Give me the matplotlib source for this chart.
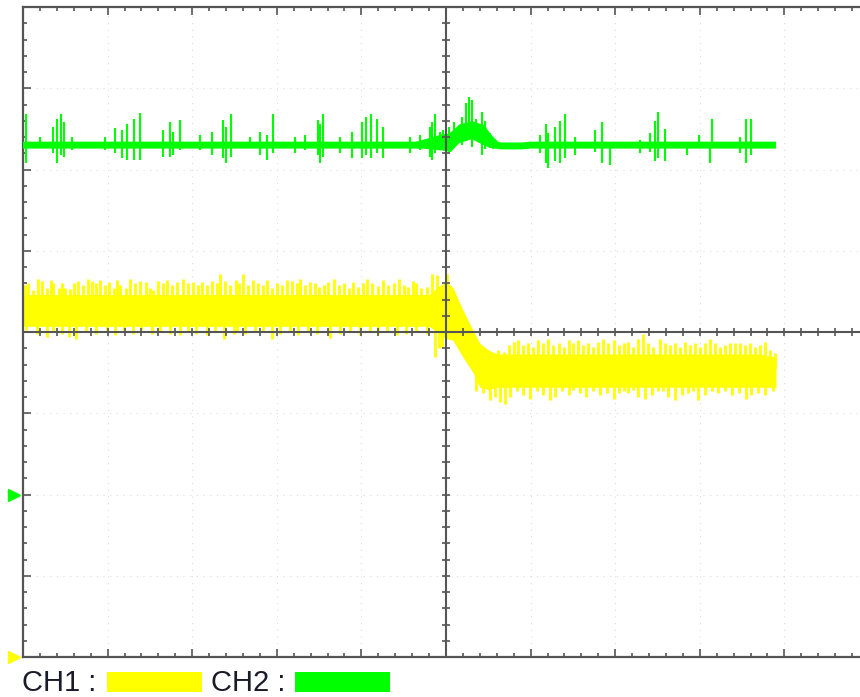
import numpy as np
import matplotlib.pyplot as plt
from matplotlib.patches import Rectangle

# screen is 10 x 8 divisions; values below are in divisions
# CH2 (green) centre line
ch2_base_t = [0.00, 4.70, 4.90, 5.00, 5.10, 5.20, 5.40, 5.52, 5.60, 5.65, 5.90, 6.00, 8.90]
ch2_base_v = [2.30, 2.30, 2.34, 2.36, 2.44, 2.52, 2.50, 2.38, 2.30, 2.29, 2.29, 2.30, 2.30]

# CH2 fuzz around the step
ch2_fuzz_t = [4.55, 4.75, 4.95, 5.05, 5.15, 5.30, 5.45, 5.55, 5.62]
ch2_fuzz_hi = [2.32, 2.38, 2.44, 2.45, 2.56, 2.60, 2.55, 2.40, 2.32]
ch2_fuzz_lo = [2.28, 2.26, 2.24, 2.22, 2.33, 2.38, 2.30, 2.26, 2.27]

# CH2 glitches: position, top, bottom
ch2_spike_t = [0.03, 0.20, 0.35, 0.40, 0.45, 0.48, 0.58, 0.97, 1.09, 1.17, 1.23, 1.31, 1.38,
               1.65, 1.74, 1.77, 1.86, 2.09, 2.23, 2.36, 2.40, 2.46, 2.68, 2.80, 2.88, 2.96,
               3.22, 3.33, 3.49, 3.51, 3.55, 3.75, 3.89, 4.01, 4.05, 4.11, 4.18, 4.26, 4.57,
               4.69, 4.81, 4.83, 4.87, 4.93, 4.97, 5.03, 5.10, 5.19, 5.24, 5.27, 5.31, 5.35,
               5.42, 5.46, 5.52, 6.11, 6.18, 6.21, 6.29, 6.35, 6.41, 6.52, 6.76, 6.84, 6.94,
               7.29, 7.41, 7.47, 7.51, 7.59, 7.85, 7.99, 8.12, 8.14, 8.48, 8.55, 8.61]
ch2_spike_hi = [2.68, 2.40, 2.52, 2.62, 2.68, 2.58, 2.40, 2.40, 2.51, 2.49, 2.56, 2.62, 2.70,
                2.49, 2.58, 2.46, 2.61, 2.42, 2.46, 2.61, 2.52, 2.68, 2.40, 2.46, 2.42, 2.68,
                2.40, 2.42, 2.61, 2.56, 2.68, 2.40, 2.46, 2.58, 2.65, 2.68, 2.62, 2.52, 2.40,
                2.42, 2.52, 2.58, 2.68, 2.46, 2.49, 2.52, 2.58, 2.65, 2.82, 2.89, 2.86, 2.62,
                2.71, 2.60, 2.45, 2.42, 2.56, 2.45, 2.52, 2.60, 2.68, 2.40, 2.49, 2.58, 2.30,
                2.36, 2.45, 2.60, 2.71, 2.50, 2.32, 2.42, 2.30, 2.62, 2.40, 2.62, 2.62]
ch2_spike_lo = [2.08, 2.26, 2.20, 2.08, 2.18, 2.15, 2.24, 2.24, 2.20, 2.14, 2.12, 2.12, 2.12,
                2.15, 2.15, 2.18, 2.24, 2.24, 2.18, 2.14, 2.08, 2.15, 2.26, 2.18, 2.12, 2.20,
                2.20, 2.24, 2.18, 2.08, 2.15, 2.20, 2.14, 2.14, 2.18, 2.14, 2.20, 2.14, 2.20,
                2.24, 2.15, 2.12, 2.20, 2.24, 2.28, 2.20, 2.28, 2.30, 2.35, 2.40, 2.28, 2.35,
                2.18, 2.25, 2.26, 2.20, 2.08, 2.02, 2.10, 2.08, 2.14, 2.18, 2.22, 2.08, 2.06,
                2.20, 2.22, 2.10, 2.14, 2.10, 2.18, 2.26, 2.08, 2.28, 2.20, 2.08, 2.18]

# CH1 (yellow) solid core of the noise band
ch1_env_t = [0.00, 4.80, 4.90, 5.00, 5.08, 5.20, 5.32, 5.40, 5.50, 5.60, 8.70, 8.90]
ch1_env_hi = [0.46, 0.46, 0.55, 0.62, 0.55, 0.27, 0.02, -0.14, -0.22, -0.27, -0.27, -0.31]
ch1_env_lo = [0.07, 0.07, 0.00, -0.08, -0.10, -0.31, -0.50, -0.68, -0.71, -0.68, -0.68, -0.68]

# CH1 upper noise peaks
ch1_peak_t = [0.02, 0.06, 0.12, 0.18, 0.22, 0.28, 0.33, 0.36, 0.42, 0.46, 0.50, 0.56, 0.60,
              0.65, 0.71, 0.77, 0.81, 0.86, 0.91, 0.97, 1.02, 1.07, 1.11, 1.15, 1.22, 1.26,
              1.32, 1.38, 1.45, 1.50, 1.54, 1.60, 1.65, 1.70, 1.76, 1.82, 1.89, 1.95, 2.01,
              2.07, 2.12, 2.17, 2.23, 2.29, 2.33, 2.39, 2.45, 2.52, 2.55, 2.60, 2.66, 2.72,
              2.78, 2.84, 2.89, 2.94, 3.00, 3.06, 3.12, 3.18, 3.24, 3.28, 3.33, 3.39, 3.45,
              3.50, 3.56, 3.61, 3.68, 3.73, 3.79, 3.85, 3.90, 3.96, 4.02, 4.07, 4.13, 4.20,
              4.26, 4.32, 4.38, 4.44, 4.50, 4.55, 4.61, 4.65, 4.71, 4.77, 4.83, 4.89, 5.01,
              5.56, 5.62, 5.68, 5.74, 5.80, 5.85, 5.91, 5.97, 6.03, 6.09, 6.15, 6.21, 6.27,
              6.33, 6.39, 6.45, 6.50, 6.56, 6.62, 6.68, 6.74, 6.80, 6.86, 6.92, 6.98, 7.04,
              7.10, 7.15, 7.21, 7.27, 7.33, 7.39, 7.45, 7.53, 7.59, 7.65, 7.71, 7.77, 7.83,
              7.88, 7.94, 8.00, 8.06, 8.12, 8.18, 8.24, 8.30, 8.36, 8.42, 8.48, 8.53, 8.59,
              8.65, 8.71, 8.77, 8.83, 8.89]
ch1_peak_v = [0.58, 0.60, 0.52, 0.65, 0.63, 0.54, 0.64, 0.60, 0.54, 0.60, 0.54, 0.53, 0.60,
              0.63, 0.58, 0.65, 0.63, 0.60, 0.64, 0.58, 0.62, 0.54, 0.64, 0.58, 0.54, 0.65,
              0.60, 0.63, 0.62, 0.54, 0.52, 0.63, 0.60, 0.64, 0.58, 0.61, 0.65, 0.60, 0.62,
              0.58, 0.61, 0.58, 0.63, 0.60, 0.72, 0.63, 0.58, 0.64, 0.60, 0.71, 0.58, 0.64,
              0.60, 0.58, 0.64, 0.54, 0.60, 0.58, 0.64, 0.63, 0.60, 0.65, 0.58, 0.62, 0.60,
              0.56, 0.58, 0.61, 0.65, 0.58, 0.60, 0.54, 0.61, 0.56, 0.60, 0.65, 0.60, 0.57,
              0.64, 0.58, 0.60, 0.65, 0.58, 0.56, 0.63, 0.60, 0.54, 0.56, 0.71, 0.70, 0.72,
              -0.26, -0.22, -0.24, -0.16, -0.12, -0.10, -0.16, -0.13, -0.18, -0.10, -0.14,
              -0.09, -0.16, -0.13, -0.18, -0.10, -0.14, -0.10, -0.16, -0.13, -0.18, -0.12,
              -0.09, -0.14, -0.10, -0.16, -0.14, -0.12, -0.18, -0.09, -0.02, -0.14, -0.18,
              -0.09, -0.14, -0.16, -0.14, -0.18, -0.12, -0.16, -0.14, -0.18, -0.14, -0.08,
              -0.14, -0.18, -0.16, -0.14, -0.13, -0.14, -0.16, -0.14, -0.18, -0.16, -0.12,
              -0.22, -0.26]

# CH1 lower noise dips
ch1_dip_t = [0.04, 0.16, 0.28, 0.36, 0.46, 0.54, 0.63, 0.75, 0.86, 0.99, 1.09, 1.19, 1.30,
             1.40, 1.52, 1.62, 1.74, 1.86, 1.95, 2.05, 2.17, 2.27, 2.37, 2.49, 2.53, 2.62,
             2.74, 2.84, 2.94, 3.04, 3.16, 3.25, 3.37, 3.47, 3.63, 3.75, 3.87, 3.98, 4.10,
             4.20, 4.30, 4.42, 4.53, 4.65, 4.77, 4.87, 4.92, 4.95,
             5.36, 5.44, 5.52, 5.58, 5.64, 5.70, 5.76, 5.84, 5.91, 5.99, 6.07, 6.15, 6.23,
             6.29, 6.37, 6.45, 6.50, 6.58, 6.66, 6.74, 6.82, 6.90, 6.98, 7.04, 7.10, 7.15,
             7.21, 7.27, 7.35, 7.43, 7.51, 7.57, 7.63, 7.71, 7.79, 7.86, 7.92, 7.98, 8.06,
             8.14, 8.22, 8.30, 8.38, 8.46, 8.55, 8.61, 8.69, 8.77, 8.87]
ch1_dip_v = [0.02, -0.02, -0.06, 0.00, -0.02, -0.06, -0.08, 0.00, -0.02, 0.00, -0.04, 0.00,
             -0.02, 0.02, -0.02, 0.00, -0.02, -0.04, 0.00, -0.02, -0.04, 0.00, -0.08, -0.02,
             0.00, -0.02, 0.00, 0.00, -0.08, -0.02, 0.00, -0.04, 0.00, -0.02, -0.07, -0.02,
             0.00, -0.04, 0.00, -0.02, 0.00, -0.04, -0.02, 0.00, -0.02, -0.31, -0.20, -0.18,
             -0.73, -0.75, -0.84, -0.80, -0.86, -0.88, -0.80, -0.73, -0.78, -0.82, -0.73,
             -0.78, -0.84, -0.80, -0.73, -0.78, -0.71, -0.75, -0.80, -0.73, -0.78, -0.75,
             -0.82, -0.75, -0.73, -0.75, -0.71, -0.80, -0.82, -0.78, -0.73, -0.73, -0.80,
             -0.84, -0.78, -0.75, -0.73, -0.84, -0.78, -0.73, -0.75, -0.73, -0.78, -0.75,
             -0.82, -0.78, -0.75, -0.78, -0.73]

YELLOW = "#ffff00"
GREEN = "#00ff00"
FRAME = "#555555"

fig = plt.figure(figsize=(8.6, 6.97), dpi=100)
ax = fig.add_axes([23 / 860, 40 / 697, 846 / 860, 650 / 697])
ax.set_xlim(0, 10)
ax.set_ylim(-4, 4)

# CH1
ax.fill_between(ch1_env_t, ch1_env_lo, ch1_env_hi, color=YELLOW, lw=0, zorder=2)
peak_t = np.array(ch1_peak_t)
ax.vlines(peak_t, np.where(peak_t < 5.05, 0.3, -0.45), ch1_peak_v, color=YELLOW, lw=2.0, zorder=2)
dip_t = np.array(ch1_dip_t)
ax.vlines(dip_t, np.where(dip_t < 5.0, 0.3, -0.45), ch1_dip_v, color=YELLOW, lw=2.0, zorder=2)

# CH2
ax.plot(ch2_base_t, ch2_base_v, color=GREEN, lw=5, solid_capstyle="butt", zorder=3)
ax.fill_between(ch2_fuzz_t, ch2_fuzz_lo, ch2_fuzz_hi, color=GREEN, lw=0, zorder=3)
ax.vlines(ch2_spike_t, ch2_spike_lo, ch2_spike_hi, color=GREEN, lw=1.5, zorder=3)

# graticule
ax.set_xticks(np.arange(0, 11, 1))
ax.set_xticks(np.arange(0, 10.01, 0.2), minor=True)
ax.set_yticks(np.arange(-4, 5, 1))
ax.set_yticks(np.arange(-4, 4.01, 0.2), minor=True)
ax.tick_params(which="both", direction="in", top=True, right=True,
               labelbottom=False, labelleft=False, color=FRAME, width=1.2)
ax.tick_params(which="major", length=5.5)
ax.tick_params(which="minor", length=3)
ax.grid(which="major", color="#dddddd", linestyle=(0, (1, 5)), lw=0.8)
for s in ax.spines.values():
    s.set_color(FRAME)
    s.set_linewidth(1.6)

ax.axhline(0, color=FRAME, lw=1.5, zorder=5)
ax.axvline(5, color=FRAME, lw=1.5, zorder=5)
steps = np.arange(0, 10.01, 0.2)
ax.plot(steps, np.zeros_like(steps), ls="none", marker="|", ms=6, mew=1.2, color=FRAME, zorder=5)
vsteps = np.arange(-4, 4.01, 0.2)
ax.plot(np.full_like(vsteps, 5), vsteps, ls="none", marker="_", ms=6, mew=1.2, color=FRAME, zorder=5)

# channel ground markers
ax.plot([-0.11], [-2], marker=">", ms=9, color=GREEN, clip_on=False, zorder=6)
ax.plot([-0.11], [-4], marker=">", ms=9, color=YELLOW, clip_on=False, zorder=6)

# legend strip
txt = dict(fontsize=21, family="Liberation Sans", color="#1a1a2a", va="center")
fig.text(22 / 860, 1 - 683 / 697, "CH1 :", **txt)
fig.add_artist(Rectangle((107 / 860, 5 / 697), 95 / 860, 20 / 697,
                         transform=fig.transFigure, color=YELLOW, lw=0))
fig.text(211 / 860, 1 - 683 / 697, "CH2 :", **txt)
fig.add_artist(Rectangle((295 / 860, 5 / 697), 95 / 860, 20 / 697,
                         transform=fig.transFigure, color=GREEN, lw=0))

fig.savefig("out.png", dpi=100)
